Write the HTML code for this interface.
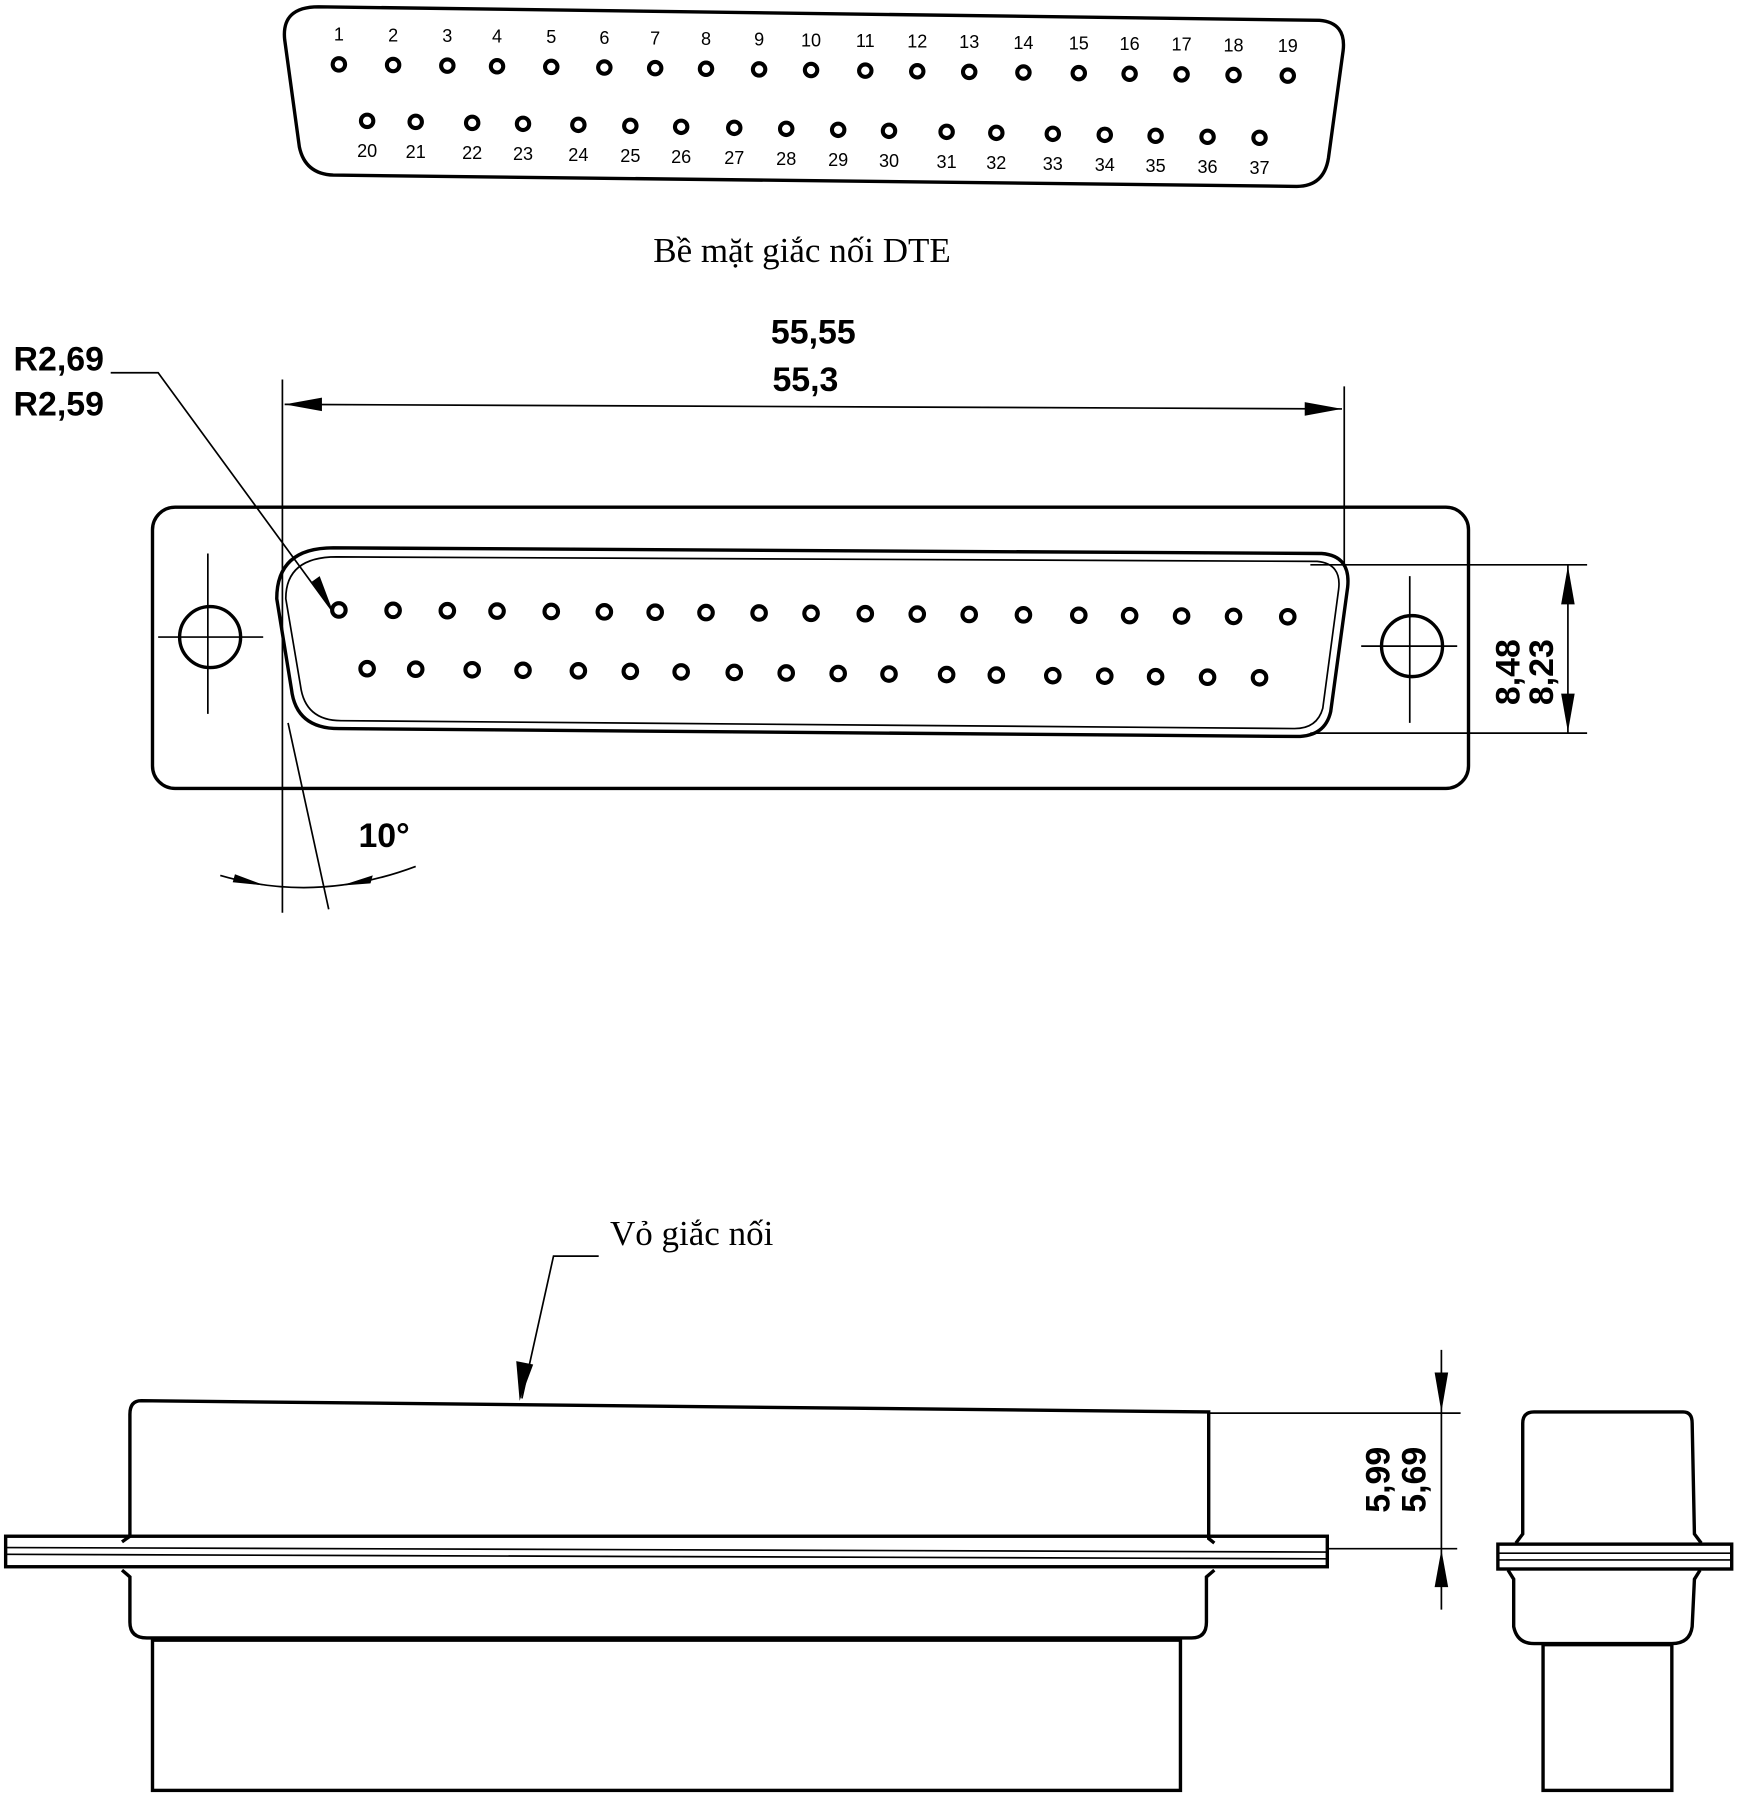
<!DOCTYPE html>
<html><head><meta charset="utf-8"><style>
html,body{margin:0;padding:0;background:#fff;}
svg{display:block;}
.l{fill:none;stroke:#000;stroke-width:3;}
.t{stroke:#000;stroke-width:1.5;fill:none;}
.p{fill:none;stroke:#000;stroke-width:3.6;}
.n{font-family:"Liberation Sans",sans-serif;font-size:16px;fill:#000;text-anchor:middle;}
.d{font-family:"Liberation Sans",sans-serif;font-size:30px;font-weight:bold;fill:#000;text-anchor:middle;}
.s{font-family:"Liberation Serif","DejaVu Serif",serif;font-size:31px;fill:#000;}
</style></head><body>
<svg width="1743" height="1800" viewBox="0 0 1543 1593.5" preserveAspectRatio="none" xmlns="http://www.w3.org/2000/svg">
<path class="l" d="M282,6 L1168,18 Q1192,20 1189,45 L1176,140 Q1172,165 1148,165 L295,155 Q270,154 265,130 L252,35 Q249,6 282,6 Z"/>
<g id="toppins"></g>
<text class="s" x="710" y="232" text-anchor="middle">Bề mặt giắc nối DTE</text>

<text class="d" x="720" y="304">55,55</text>
<text class="d" x="713" y="346">55,3</text>
<line class="t" x1="250" y1="336" x2="250" y2="808"/>
<line class="t" x1="1190" y1="342" x2="1190" y2="500"/>
<line class="t" x1="252" y1="358" x2="1188" y2="362"/>
<path d="M252,358 L285,352 L285,364 Z" fill="#000"/>
<path d="M1188,362 L1155,356 L1155,368 Z" fill="#000"/>
<text class="d" x="52" y="328">R2,69</text>
<text class="d" x="52" y="368">R2,59</text>
<polyline class="t" points="98,330 140,330 295,542"/>
<path d="M295,542 L276,515 L283,510 Z" fill="#000"/>

<rect class="l" x="135" y="449" width="1165" height="249" rx="20"/>
<circle class="l" cx="186" cy="564" r="27"/>
<line class="t" x1="140" y1="564" x2="233" y2="564"/><line class="t" x1="184" y1="490" x2="184" y2="632"/>
<circle class="l" cx="1250" cy="572" r="27"/>
<line class="t" x1="1205" y1="572" x2="1290" y2="572"/><line class="t" x1="1248" y1="510" x2="1248" y2="640"/>
<path class="l" stroke-width="4" d="M295,485 L1170,490 Q1196,492 1193,520 L1178,630 Q1173,652 1148,652 L300,645 Q262,645 258,610 L245,530 Q245,485 295,485 Z"/>
<path class="t" stroke-width="2" d="M298,493 L1166,497 Q1188,499 1185,522 L1171,627 Q1166,645 1146,645 L302,638 Q270,638 266,607 L253,530 Q253,493 298,493 Z"/>
<line class="t" x1="255" y1="640" x2="291" y2="805"/>
<g id="midpins"></g>
<line class="t" x1="1160" y1="500" x2="1405" y2="500"/>
<line class="t" x1="1160" y1="649" x2="1405" y2="649"/>
<line class="t" x1="1388" y1="500" x2="1388" y2="649"/>
<path d="M1388,501 L1382,535 L1394,535 Z" fill="#000"/>
<path d="M1388,648 L1382,614 L1394,614 Z" fill="#000"/>
<text class="d" transform="translate(1345,595) rotate(-90)">8,48</text>
<text class="d" transform="translate(1375,595) rotate(-90)">8,23</text>
<text class="d" x="340" y="750" font-size="26">10°</text>
<path class="t" stroke-width="2" d="M195,775 Q280,800 368,767"/>
<path d="M235,784 L208,774 L206,781 Z" fill="#000"/>
<path d="M302,784 L330,775 L328,782 Z" fill="#000"/>

<text class="s" x="540" y="1102">Vỏ giắc nối</text>
<polyline class="t" points="530,1112 490,1112 462,1238"/>
<path d="M460,1240 L457,1205 L472,1208 Z" fill="#000"/>
<path class="l" d="M125,1240 L1070,1250 L1070,1362 L1075,1366 M108,1365 L115,1360 L115,1252 Q115,1240 125,1240"/>
<rect class="l" x="5" y="1360" width="1170" height="27"/>
<line class="t" x1="5" y1="1370" x2="1175" y2="1374"/><line class="t" x1="5" y1="1376" x2="1175" y2="1380"/>
<path class="l" d="M108,1390 L115,1396 L115,1436 Q115,1450 130,1450 L1055,1450 Q1068,1450 1068,1436 L1068,1396 L1075,1390"/>
<rect class="l" x="135" y="1452" width="910" height="133"/>
<line class="t" x1="1070" y1="1251" x2="1293" y2="1251"/>
<line class="t" x1="1175" y1="1371" x2="1290" y2="1371"/>
<line class="t" x1="1276" y1="1195" x2="1276" y2="1425"/>
<path d="M1276,1250 L1270,1215 L1282,1215 Z" fill="#000"/>
<path d="M1276,1372 L1270,1405 L1282,1405 Z" fill="#000"/>
<text class="d" transform="translate(1230,1310) rotate(-90)">5,99</text>
<text class="d" transform="translate(1262,1310) rotate(-90)">5,69</text>
<path class="l" d="M1342,1366 L1348,1358 L1348,1260 Q1348,1250 1358,1250 L1490,1250 Q1498,1250 1498,1260 L1500,1358 L1506,1366"/>
<rect class="l" x="1326" y="1367" width="207" height="22"/>
<line class="t" x1="1326" y1="1375" x2="1533" y2="1375"/><line class="t" x1="1326" y1="1381" x2="1533" y2="1381"/>
<path class="l" d="M1335,1390 L1340,1398 L1340,1440 Q1343,1455 1358,1455 L1480,1455 Q1496,1455 1498,1440 L1500,1398 L1505,1390"/>
<rect class="l" x="1366" y="1456" width="114" height="129"/>
</svg>
<script>
(function(){
var ns="http://www.w3.org/2000/svg";
var tx=[300,348,396,440,488,535,580,625,672,718,766,812,858,906,955,1000,1046,1092,1140];
var bx=[325,368,418,463,512,558,603,650,696,742,787,838,882,932,978,1023,1069,1115];
function c(g,x,y,r){var e=document.createElementNS(ns,"circle");e.setAttribute("cx",x);e.setAttribute("cy",y);e.setAttribute("r",r);e.setAttribute("class","p");g.appendChild(e);}
function t(g,x,y,s){var e=document.createElementNS(ns,"text");e.setAttribute("x",x);e.setAttribute("y",y);e.setAttribute("class","n");e.textContent=s;g.appendChild(e);}
var g1=document.getElementById("toppins"),g2=document.getElementById("midpins");
tx.forEach(function(x,i){var y=57+10*i/18;c(g1,x,y,5.5);t(g1,x,y-21,i+1);c(g2,x,540+6*i/18,6);});
bx.forEach(function(x,i){var y=107+15*i/17;c(g1,x,y,5.5);t(g1,x,y+32,i+20);c(g2,x,592+8*i/17,6);});
})();
</script>
</body></html>
